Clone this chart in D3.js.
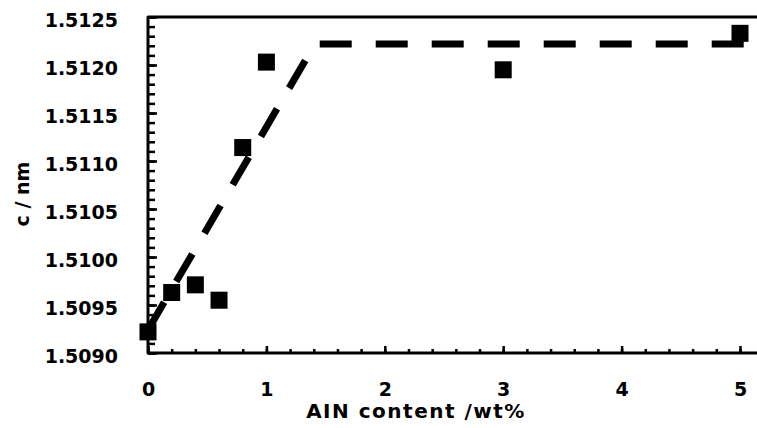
<!DOCTYPE html>
<html>
<head>
<meta charset="utf-8">
<script src="https://cdn.jsdelivr.net/npm/d3@7"></script>
<style>
  html, body { margin: 0; padding: 0; background: #fff; }
  svg { display: block; }
  text { font-family: "DejaVu Sans", sans-serif; font-weight: bold; fill: #000; }
</style>
</head>
<body>
<script>
// ---- data ------------------------------------------------------------------
const alnWt = [0, 0.2, 0.4, 0.6, 0.8, 1, 3, 5];
const cNm = [1.50922, 1.50963, 1.50971, 1.50955, 1.51114, 1.51203, 1.51195, 1.51233];
// dashed guide line: linear rise then plateau
const fitWt = [0, 1.41, 5.05];
const fitC = [1.50924, 1.51222, 1.51222];
const xMajor = [0, 1, 2, 3, 4, 5];
const yMajor = [1.5090, 1.5095, 1.5100, 1.5105, 1.5110, 1.5115, 1.5120, 1.5125];

const W = 757, H = 428;
const L = 148, T = 17, B = 353, RIGHT = 757;

const x = d3.scaleLinear().domain([0, 5]).range([L, 740]);
const y = d3.scaleLinear().domain([1.5090, 1.5125]).range([B, T]);

const svg = d3.select("body").append("svg").attr("width", W).attr("height", H);

// minor ticks
const xMinor = d3.range(0, 5.15, 0.2).filter((v) => x(v) <= RIGHT);
const yMinor = d3.range(1.5090, 1.51251, 0.0001);

svg.append("g")
  .attr("transform", `translate(${L},0)`)
  .call(d3.axisLeft(y).tickValues(yMinor).tickSize(-7).tickFormat(""))
  .call((g) => g.select(".domain").remove())
  .call((g) => g.selectAll("line").attr("stroke", "#000").attr("stroke-width", 2.5));

svg.append("g")
  .attr("transform", `translate(${L},0)`)
  .call(d3.axisLeft(y).tickValues(yMajor).tickSize(-9).tickPadding(30).tickFormat(d3.format(".4f")))
  .call((g) => g.select(".domain").remove())
  .call((g) => g.selectAll("line").attr("stroke", "#000").attr("stroke-width", 2.5))
  .call((g) => g.selectAll("text").attr("dy", "0.52em").style("font-size", "19px"));

svg.append("g")
  .attr("transform", `translate(0,${B})`)
  .call(d3.axisBottom(x).tickValues(xMinor).tickSize(-4).tickFormat(""))
  .call((g) => g.select(".domain").remove())
  .call((g) => g.selectAll("line").attr("stroke", "#000").attr("stroke-width", 2.5));

svg.append("g")
  .attr("transform", `translate(0,${B})`)
  .call(d3.axisBottom(x).tickValues(xMajor).tickSize(-7).tickPadding(30).tickFormat(d3.format("d")))
  .call((g) => g.select(".domain").remove())
  .call((g) => g.selectAll("line").attr("stroke", "#000").attr("stroke-width", 2.5))
  .call((g) => g.selectAll("text").style("font-size", "19px"));

// frame: left, top and bottom lines
svg.append("path")
  .attr("d", `M${RIGHT},${T}H${L}V${B}H${RIGHT}`)
  .attr("fill", "none")
  .attr("stroke", "#000")
  .attr("stroke-width", 3)
  .attr("stroke-linejoin", "round");

// dashed guide
const line = d3.line().x((d, i) => x(fitWt[i])).y((d, i) => y(fitC[i]));
svg.append("path")
  .attr("d", line(fitWt))
  .attr("fill", "none")
  .attr("stroke", "#000")
  .attr("stroke-width", 7)
  .attr("stroke-dasharray", "32,24")
  .attr("stroke-dashoffset", 0);

// square markers
const S = 17;
svg.append("g")
  .selectAll("rect")
  .data(alnWt)
  .join("rect")
  .attr("x", (d) => x(d) - S / 2)
  .attr("y", (d, i) => y(cNm[i]) - S / 2)
  .attr("width", S)
  .attr("height", S)
  .attr("fill", "#000");

// axis titles
svg.append("text")
  .attr("x", 416)
  .attr("y", 418)
  .attr("text-anchor", "middle")
  .style("font-size", "20px")
  .style("letter-spacing", "1.5px")
  .text("AIN content /wt%");

svg.append("text")
  .attr("transform", "translate(29,194) rotate(-90)")
  .attr("text-anchor", "middle")
  .style("font-size", "19px")
  .text("c / nm");
</script>
</body>
</html>
